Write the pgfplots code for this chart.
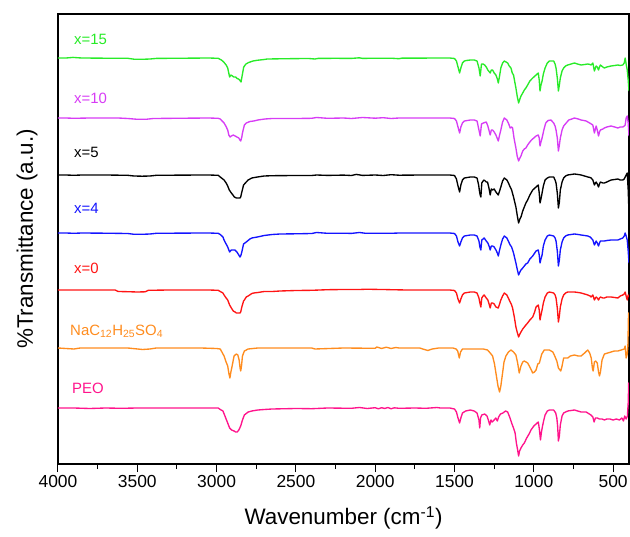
\documentclass[border=0pt]{standalone}
\usepackage{pgfplots}
\pgfplotsset{compat=1.18}
\usepackage{pgfplotstable}
\usepackage{fontspec}
\setmainfont{Liberation Sans}
\definecolor{cgreen}{RGB}{40,235,40}
\definecolor{cmag}{RGB}{215,60,245}
\definecolor{cblue}{RGB}{20,20,255}
\definecolor{cred}{RGB}{255,20,20}
\definecolor{corange}{RGB}{255,140,30}
\definecolor{cpink}{RGB}{255,20,140}

% depth below each trace's baseline (in picture units)
\pgfplotstableread{
wn d
4000 0
3950 0
3905 -0.6
3880 -0.3
3850 0
3700 0.2
3560 0.3
3520 1.2
3470 1.3
3420 1.0
3380 0.4
3200 0.2
3050 0
2990 0.3
2970 2
2955 4
2940 7
2930 10
2918 19
2910 17
2900 18
2892 19
2880 19
2871 20.5
2862 21
2855 22
2846 24
2837 16
2829 9
2815 6
2798 4.5
2770 3
2745 2.3
2700 1.5
2680 1
2600 0.8
2500 0.6
2420 0.5
2380 1
2360 0.4
2250 0.3
2150 0.4
2100 -0.2
2080 0.4
2000 0.2
1900 0.2
1850 0.7
1830 0.1
1700 0.1
1600 0
1530 0
1500 0.5
1488 3
1478 9
1468 15
1460 10
1450 5
1438 3
1425 2.5
1400 2
1376 2
1358 3
1346 10
1338 18
1330 6
1320 6
1310 7
1300 9
1290 12
1280 14
1275 15
1268 12
1260 12
1250 15
1239 17
1230 21
1224 25
1216 18
1208 10
1197 5
1186 3
1175 4
1165 5
1155 8
1144 10
1136 15
1128 17
1120 24
1113 30
1105 38
1096 45
1088 41
1081 38
1070 35
1060 32
1050 30
1039 27
1025 23
1007 20
986 17
972 15
966 22
961 33
955 27
948 23
940 16
929 10
915 5
902 3
875 3
866 6
860 10
852 20
845 33
839 27
833 20
822 13
812 10
800 8
786 7
765 6
744 5
725 6
702 7
680 6.5
660 6
645 6.5
639 7
628 5
618 13
612 10
607 8
600 9
592 12
586 9
580 7
565 9
555 10
540 9
513 8
490 7.5
470 7
455 7.5
439 7
430 5
424 0
418 6
411 12
405 22
400 33
}\tabG

\pgfplotstableread{
wn d
4000 0
3950 0
3900 0.3
3800 0
3620 0
3560 0.5
3500 1.3
3440 1.2
3400 0.5
3200 0.2
3050 0
2990 0.3
2977 1
2953 5
2942 8
2930 12
2923 17
2915 19
2907 18
2895 17
2883 18
2872 19
2860 20
2853 22
2848 23
2841 19
2837 15
2825 7
2813 5
2790 3.5
2766 3
2740 2
2696 1
2650 0.5
2500 0.5
2400 0.3
2370 -0.5
2300 0.3
2200 0
2150 0.5
2080 -0.5
2000 0.2
1950 -0.3
1900 0.5
1850 0
1700 0
1600 0
1530 0
1500 0.5
1488 3
1478 9
1468 15
1460 9
1450 5
1438 3
1400 2
1376 2
1358 3
1346 12
1338 18
1330 6
1318 5
1300 4
1290 8
1275 17
1268 12
1260 12
1250 14
1239 17
1224 23
1216 17
1208 12
1197 4
1186 0
1170 2
1158 6
1149 10
1140 9
1134 10
1125 20
1113 30
1105 38
1096 43
1088 40
1081 38
1070 33
1060 31
1050 30
1039 27
1030 25
1015 22
1000 20
986 18
972 17
966 20
961 28
955 24
948 20
937 12
925 5
910 2.5
892 2
875 5
866 8
860 12
852 20
845 33
839 27
833 20
822 12
812 8
796 5
780 2
760 1
744 0
720 1
702 2
685 2.5
670 3
648 5
628 7
618 15
612 11
607 8
600 12
592 18
586 14
580 12
565 11
555 10
540 9
513 8
490 9
470 10
455 9
439 9
430 8
424 7
418 0
411 -2
405 5
400 18
}\tabM

\pgfplotstableread{
wn d
4000 0
3950 0
3900 0.3
3850 0
3700 0
3560 0.3
3520 1
3470 1.2
3420 1
3380 0.3
3200 0.1
3050 0
2990 0.3
2977 2
2953 5
2940 8
2930 11
2920 15
2907 18
2897 20
2888 22
2876 23
2864 23
2853 23
2848 22
2841 17
2830 10
2813 7
2801 5
2778 3
2743 2
2700 1
2650 0.7
2500 0.5
2400 0.5
2370 0
2300 0.4
2200 0.1
2150 0.5
2120 -0.6
2080 0.4
2000 0
1950 0.5
1900 -0.3
1850 0.2
1700 0
1600 0
1530 0
1500 0.5
1488 4
1478 11
1468 17
1460 10
1450 5
1438 3
1400 2
1376 2
1358 3
1348 10
1342 17
1338 20
1334 22
1328 8
1320 6
1313 5
1300 7
1292 7
1283 13
1275 20
1268 14
1260 15
1250 14
1239 17
1224 20
1216 16
1208 12
1197 6
1186 3
1170 5
1160 8
1149 12
1140 15
1128 22
1113 32
1105 40
1096 48
1088 44
1081 42
1070 36
1060 32
1050 28
1039 25
1025 20
1007 15
986 12
972 10
966 18
961 28
955 24
948 18
940 11
929 5
915 3
902 2
875 2
866 5
860 8
852 18
845 33
839 27
833 15
822 7
812 3
800 1
786 0
765 -0.5
744 -1
720 -0.5
702 0
680 1
660 2
645 2.5
639 3
628 5
618 10
612 8
607 7
600 9
592 12
586 9
580 7
565 8
555 8
540 7
513 5
490 4.5
470 4
455 5
439 5
430 4
424 2
418 0
411 -2
405 15
400 38
}\tabK

\pgfplotstableread{
wn d
4000 0
3950 0
3900 0.3
3850 0
3700 0.2
3560 0.5
3520 1.3
3470 1.3
3420 1
3380 0.3
3200 0.1
3050 0
2990 0.3
2977 1.5
2960 4
2953 7
2940 11
2930 14
2918 19
2907 17
2895 17
2885 17
2872 19
2860 22
2853 24
2848 23
2841 19
2830 11
2813 9
2790 6
2778 5
2743 4
2700 2.5
2650 1.5
2600 1
2500 0.8
2400 0.5
2370 -0.5
2300 0.3
2200 0.2
2150 0.4
2100 -0.5
2060 0.3
2000 0.2
1900 0.3
1850 0
1700 0
1600 0
1530 0
1500 0.5
1488 3
1478 9
1468 13
1460 9
1450 5
1438 3
1400 2
1376 2
1358 3
1346 8
1340 14
1334 17
1328 7
1320 6
1313 5
1300 8
1290 10
1280 14
1275 17
1268 13
1260 13
1250 14
1239 17
1230 20
1224 23
1216 17
1208 12
1197 6
1186 3
1170 5
1158 9
1149 12
1140 14
1128 20
1113 30
1105 36
1096 42
1088 39
1081 37
1070 35
1060 33
1050 31
1039 30
1025 26
1007 23
986 18
972 17
966 22
961 30
955 26
948 22
940 13
929 7
915 3
902 2
875 3
866 5
860 8
852 18
845 33
839 27
833 17
822 9
812 5
800 3
786 2
765 1.5
744 1
720 1.5
702 2
680 2.5
660 3
645 4
639 5
628 7
618 12
612 10
607 8
600 10
592 13
586 10
580 8
565 8
555 8
540 7.5
513 7
490 7
470 7
455 6
439 5
430 3
424 0
418 3
411 7
405 18
400 30
}\tabB

\pgfplotstableread{
wn d
4000 0
3900 0
3700 0
3640 0
3620 1.5
3560 1.7
3500 2
3450 1.8
3430 0.3
3300 0
3050 0
2990 0.3
2977 1.5
2960 3
2953 5
2940 8
2930 10
2918 15
2907 18
2895 21
2883 22
2876 23
2864 23
2853 23
2848 22
2841 17
2830 11
2825 10
2813 7
2801 6
2778 3.5
2766 3
2740 2.5
2700 1.5
2650 1.5
2600 1
2500 0.5
2400 0.3
2300 -0.3
2200 -0.5
2100 -0.5
2050 -0.8
2000 -0.6
1950 -0.5
1900 -0.3
1800 0
1700 0
1600 0
1530 0
1500 0.5
1488 3
1478 9
1468 13
1460 9
1450 5
1438 3
1400 2
1376 2
1358 3
1346 8
1340 13
1334 17
1328 8
1320 6
1313 5
1300 8
1290 10
1282 14
1275 18
1268 13
1260 13
1250 14
1239 17
1224 18
1216 14
1208 10
1197 6
1186 3
1170 5
1158 9
1149 12
1140 15
1134 18
1123 27
1113 37
1105 42
1096 47
1088 44
1081 42
1070 39
1060 37
1050 35
1039 33
1025 30
1007 27
995 22
986 17
972 15
966 20
961 30
955 25
948 20
940 13
929 7
915 3
902 2
875 3
866 5
860 8
852 18
845 32
839 26
833 17
822 9
812 5
800 3
786 2
765 2
744 2
720 2.5
702 3
680 4
660 5
645 6
639 7
628 5
618 10
612 8
607 7
600 8
592 10
586 8
580 7
565 8
555 8
540 7
513 7
490 7.5
470 8
455 6
439 5
430 4
424 2
418 6
411 10
405 5
400 7
}\tabR

\pgfplotstableread{
wn d
4000 0
3900 1
3860 0
3560 0
3467 1.5
3420 1
3380 0
3100 0
3000 0.5
2977 1
2953 8
2940 14
2930 18
2922 26
2916 30
2910 24
2902 18
2890 8
2876 6
2866 7
2858 12
2852 20
2848 23
2843 18
2837 8
2825 3
2801 1
2740 0
2400 0
2380 1
2200 0
2000 0.3
1990 -1
1960 0.5
1930 -0.8
1900 0.5
1870 -0.5
1850 0
1720 0
1690 1.5
1668 2.5
1640 1
1600 0
1510 0
1490 1
1480 3
1470 10
1462 4
1450 1
1380 1
1318 1
1292 2
1275 5
1260 8
1248 16
1239 25
1226 38
1216 44
1208 38
1197 25
1188 14
1176 8
1160 4
1144 2
1128 4
1113 7
1102 15
1092 25
1081 18
1070 14
1060 13
1049 14
1039 15
1025 19
1007 25
996 24
986 22
975 16
965 15
950 6
934 2
902 2
880 4
871 7
855 13
845 20
830 23
822 18
812 10
786 10
770 8
744 7
720 8
702 8
680 5
660 2
648 5
638 10
630 21
626 23
618 14
610 13
600 15
592 24
586 28
580 24
570 12
555 6
534 5
513 4
492 3
470 3
449 2
430 1
424 -2
418 10
411 6
407 -2
403 -35
400 -35
}\tabO

\pgfplotstableread{
wn d
4000 0
3900 0
3800 0.5
3700 0
3600 0.3
3500 0
3200 0
3050 0
2990 0
2977 1.5
2960 3
2950 7
2935 13
2918 20
2905 22
2890 23
2880 24
2870 24
2860 22
2848 18
2837 12
2825 7
2801 4
2778 3
2740 2
2700 1.5
2650 1
2500 0.5
2400 0.7
2300 0
2150 0.3
2100 -0.5
2050 0.5
2000 -0.3
1980 0.8
1960 -0.3
1940 0.5
1920 -0.5
1900 0.8
1880 -0.2
1850 0.3
1750 0
1680 0.3
1610 -0.5
1590 0
1530 0
1500 1
1488 4
1478 10
1468 15
1460 10
1450 5
1430 3
1400 2
1376 3
1358 5
1346 12
1341 20
1336 10
1328 7
1310 6
1295 8
1285 13
1278 17
1270 12
1262 14
1250 12
1240 10
1230 13
1222 9
1210 6
1195 5
1178 3
1165 4
1150 10
1140 15
1128 20
1118 25
1110 35
1102 42
1096 48
1090 43
1081 40
1070 37
1060 35
1045 30
1030 26
1018 22
1000 18
986 16
972 14
966 20
958 32
952 24
945 18
937 12
929 7
915 3
902 2
875 2
862 5
855 10
850 18
845 33
839 28
833 17
822 8
812 5
786 3
744 2
702 4
670 4
650 6
640 7
628 9
620 14
612 10
600 10
586 11
570 11
555 12
540 11
520 11
500 12
480 11
460 12
445 10
435 13
427 8
418 11
410 8
405 -5
402 -25
400 -25
}\tabP

\begin{document}
\begin{tikzpicture}
\useasboundingbox (-58bp,-73bp) rectangle (572bp,464bp);
\begin{axis}[
  at={(0,0)}, anchor=south west,
  width=571bp, height=450bp, scale only axis,
  x dir=reverse, xmin=400, xmax=4000,
  ymin=-464, ymax=-14,
  xtick={500,1000,...,4000},
  minor x tick num=1,
  ytick=\empty,
  xtick pos=bottom,
  tick align=outside,
  major tick length=8bp, minor tick length=5bp,
  tick style={black, line width=1bp},
  axis line style={black, line width=1.2bp},
  /pgf/number format/assume math mode=true,
  xticklabel style={font=\fontsize{17.5}{20}\selectfont, /pgf/number format/1000 sep={}},
  xlabel={Wavenumber (cm\textsuperscript{-1})},
  ylabel={\%Transmittance (a.u.)},
  label style={font=\fontsize{22.5}{26}\selectfont},
  xlabel style={at={(axis description cs:0.5,-0.12)}, anchor=center},
  ylabel style={at={(axis description cs:-0.0543,0.5)}, anchor=center},
  every axis plot/.append style={line width=1.35bp, no marks, line join=round},
]
\addplot[cgreen]  table[x=wn, y expr=-58-\thisrow{d}]  {\tabG};
\addplot[cmag]    table[x=wn, y expr=-118-\thisrow{d}] {\tabM};
\addplot[black]   table[x=wn, y expr=-175-\thisrow{d}] {\tabK};
\addplot[cblue]   table[x=wn, y expr=-233-\thisrow{d}] {\tabB};
\addplot[cred]    table[x=wn, y expr=-290-\thisrow{d}] {\tabR};
\addplot[corange] table[x=wn, y expr=-348-\thisrow{d}] {\tabO};
\addplot[cpink]   table[x=wn, y expr=-408-\thisrow{d}] {\tabP};

\begin{scope}[every node/.style={anchor=base west, inner sep=0pt, font=\fontsize{15}{18}\selectfont}]
\node[text=cgreen]  at (axis cs:3899,-44)  {x=15};
\node[text=cmag]    at (axis cs:3899,-103) {x=10};
\node[text=black]   at (axis cs:3899,-157) {x=5};
\node[text=cblue]   at (axis cs:3899,-213) {x=4};
\node[text=cred]    at (axis cs:3899,-273) {x=0};
\node[text=corange] at (axis cs:3924,-335) {NaC\textsubscript{12}H\textsubscript{25}SO\textsubscript{4}};
\node[text=cpink]   at (axis cs:3912,-393) {PEO};
\end{scope}
\end{axis}
\end{tikzpicture}
\end{document}
